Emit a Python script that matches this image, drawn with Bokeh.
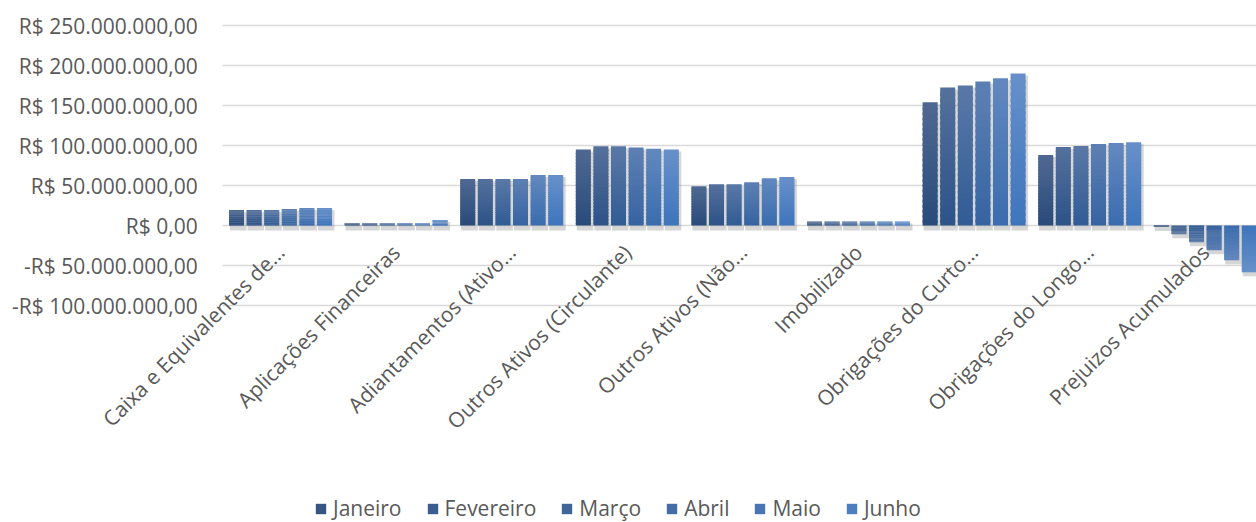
import math
from bokeh.plotting import figure
from bokeh.models import Range1d, Legend, LegendItem
from bokeh.core.properties import value
from bokeh.embed import file_html
from bokeh.resources import INLINE

categories = ["Caixa e Equivalentes de…", "Aplicações Financeiras", "Adiantamentos (Ativo…",
              "Outros Ativos (Circulante)", "Outros Ativos (Não…", "Imobilizado",
              "Obrigações do Curto…", "Obrigações do Longo…", "Prejuizos Acumulados"]
months = ["Janeiro", "Fevereiro", "Março", "Abril", "Maio", "Junho"]

# values in R$ millions
janeiro = [19.5, 3, 58, 95, 49, 5, 154, 88, -2]
fevereiro = [19.5, 3, 58, 99, 51.5, 5, 172.5, 98, -11]
marco = [19.5, 3, 58, 99, 51.5, 5, 175, 99.5, -21]
abril = [20.5, 3, 58, 97.5, 54, 5, 180, 102, -31]
maio = [22, 3, 63, 96, 59, 5, 184, 103, -43.5]
junho = [22, 7, 63, 95, 60.5, 5, 190, 104, -58.5]
series = [janeiro, fevereiro, marco, abril, maio, junho]

y_ticks = [-100000000, -50000000, 0, 50000000, 100000000, 150000000, 200000000, 250000000]
y_tick_labels = ["-R$ 100.000.000,00", "-R$ 50.000.000,00", "R$ 0,00", "R$ 50.000.000,00",
                 "R$ 100.000.000,00", "R$ 150.000.000,00", "R$ 200.000.000,00", "R$ 250.000.000,00"]

# gradient ends per series: (base colour, tip colour)
base_first, base_last = (0x28, 0x4A, 0x7A), (0x3D, 0x74, 0xBB)
tip_first, tip_last = (0x4F, 0x68, 0x91), (0x67, 0x90, 0xC9)
FONT = "Open Sans"
TXT = "#595959"


def mix(a, b, t):
    return "#%02x%02x%02x" % tuple(int(round(a[i] + (b[i] - a[i]) * t)) for i in range(3))


# whole canvas is the plot frame, so that the slanted category labels are not clipped
p = figure(width=1256, height=522, output_backend="svg", toolbar_location=None,
           x_range=Range1d(-1.9221, 8.943), y_range=Range1d(-371.25e6, 281.25e6),
           x_axis_location=None, y_axis_location=None,
           min_border_left=0, min_border_right=0, min_border_top=0, min_border_bottom=0,
           outline_line_color=None)
p.grid.visible = False

n = len(categories)
# value-axis gridlines and tick labels
p.segment(x0=[0] * len(y_ticks), x1=[9] * len(y_ticks), y0=y_ticks, y1=y_ticks,
          line_color="#d9d9d9", line_width=1.5)
p.text(x=[0] * len(y_ticks), y=y_ticks, text=y_tick_labels, x_offset=-25,
       text_align="right", text_baseline="middle",
       text_font=value(FONT), text_font_size="21px", text_color=TXT)

step = 0.1522
bw = 0.13
px = 1.25e6  # data units per pixel vertically
dx = 1 / 115.6  # data units per pixel horizontally

# soft shadows
for j, vals in enumerate(series):
    xs = [i + 0.5 + (j - 2.5) * step for i in range(n)]
    v = [x * 1e6 for x in vals]
    left = [x - bw / 2 + 1 * dx for x in xs]
    right = [x + bw / 2 + 2.5 * dx for x in xs]
    top = [(t - 2 * px) if t > 0 else 0 for t in v]
    bottom = [(-5 * px) if t > 0 else t - 4 * px for t in v]
    p.quad(left=left, right=right, top=top, bottom=bottom, fill_color="#808080",
           fill_alpha=0.32, line_color=None)

# bars with a vertical gradient (dark at the base, lighter at the tip);
# bands overlap a little so that no seams show
K = 24
items = []
for j, vals in enumerate(series):
    t = j / (len(series) - 1)
    base = tuple(int(round(base_first[i] + (base_last[i] - base_first[i]) * t)) for i in range(3))
    tip = tuple(int(round(tip_first[i] + (tip_last[i] - tip_first[i]) * t)) for i in range(3))
    xs = [i + 0.5 + (j - 2.5) * step for i in range(n)]
    v = [x * 1e6 for x in vals]
    legend_r = None
    for k in range(K):
        c = mix(base, tip, (k + 0.5) / K)
        lo = max(k - 0.5, 0) / K
        r = p.vbar(x=xs, bottom=[val * lo for val in v], top=[val * (k + 1) / K for val in v],
                   width=bw, fill_color=c, line_color=None)
        if k == K // 3:
            legend_r = r
    items.append(LegendItem(label=months[j], renderers=[legend_r]))

# category labels, hanging below the zero line
p.text(x=[i + 0.5 for i in range(n)], y=[0] * n, text=categories, angle=math.pi / 4,
       text_align="right", text_baseline="top", x_offset=-10, y_offset=13,
       text_font=value(FONT), text_font_size="21px", text_color=TXT)

legend = Legend(items=items, orientation="horizontal", location=(314, 0),
                glyph_width=13, glyph_height=13, label_standoff=6, spacing=24,
                padding=0, margin=0, border_line_color=None, background_fill_alpha=0,
                label_text_font=FONT, label_text_font_size="21px", label_text_color=TXT)
p.add_layout(legend)

open("out.html", "w").write(file_html(p, INLINE))
